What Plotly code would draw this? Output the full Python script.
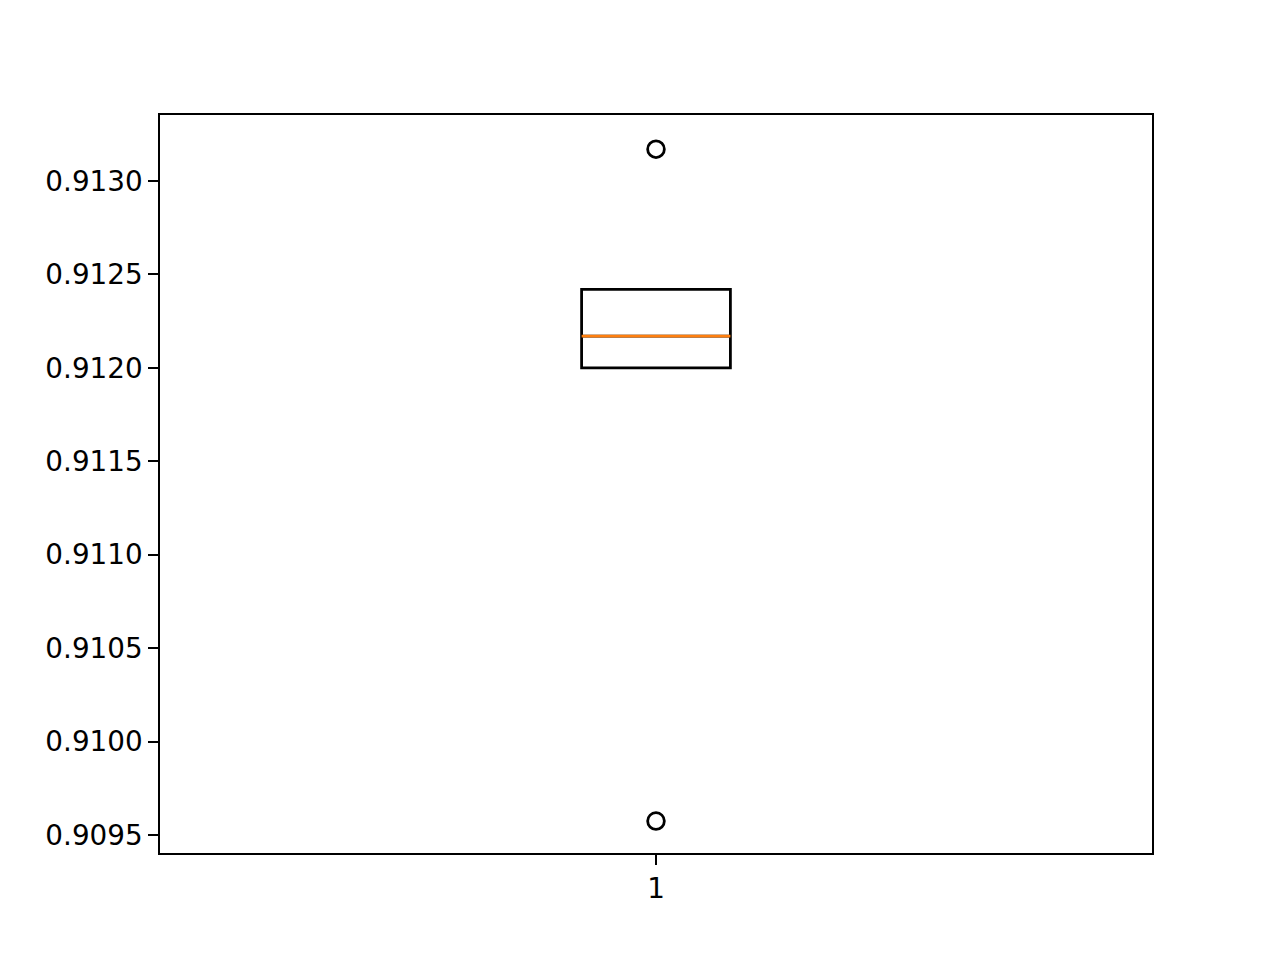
import plotly.graph_objects as go

# data
positions = [1]
q1 = [0.9120]
median = [0.91217]
q3 = [0.91242]
lower_whisker = [0.9120]
upper_whisker = [0.91242]
outliers = [0.91317, 0.909575]
y_ticks = [0.9095, 0.9100, 0.9105, 0.9110, 0.9115, 0.9120, 0.9125, 0.9130]
y_tick_labels = ["0.9095", "0.9100", "0.9105", "0.9110", "0.9115", "0.9120", "0.9125", "0.9130"]

LW = 2.78
fig = go.Figure()
fig.add_trace(go.Box(
    x=positions, q1=q1, median=median, q3=q3,
    lowerfence=lower_whisker, upperfence=upper_whisker,
    width=0.15, whiskerwidth=0.5,
    fillcolor="rgba(0,0,0,0)", line=dict(color="black", width=LW),
    boxpoints=False, hoverinfo="skip", showlegend=False,
))
# median line (orange)
fig.add_trace(go.Box(
    x=positions, q1=median, median=median, q3=median,
    lowerfence=median, upperfence=median,
    width=0.15, whiskerwidth=0,
    fillcolor="rgba(0,0,0,0)", line=dict(color="#ff7f0e", width=LW),
    boxpoints=False, hoverinfo="skip", showlegend=False,
))
fig.add_trace(go.Scatter(
    x=positions * len(outliers), y=outliers, mode="markers",
    marker=dict(symbol="circle-open", size=16.7, color="black", line=dict(width=LW)),
    showlegend=False,
))

axis_common = dict(
    showline=True, linecolor="black", linewidth=2.2, mirror=True,
    ticks="outside", ticklen=9.7, tickwidth=2.2, tickcolor="black",
    showgrid=False, zeroline=False,
    tickfont=dict(family="DejaVu Sans", size=27.8, color="black"),
)
fig.update_layout(
    width=1280, height=960,
    margin=dict(l=152, r=136, t=107, b=115),
    paper_bgcolor="white", plot_bgcolor="white",
    boxmode="overlay",
    xaxis=dict(range=[0.5, 1.5], tickvals=positions, ticktext=["1"], **axis_common),
    yaxis=dict(range=[0.909404, 0.913353], tickvals=y_ticks, ticktext=y_tick_labels, **axis_common),
)
fig.write_html("out.html")
